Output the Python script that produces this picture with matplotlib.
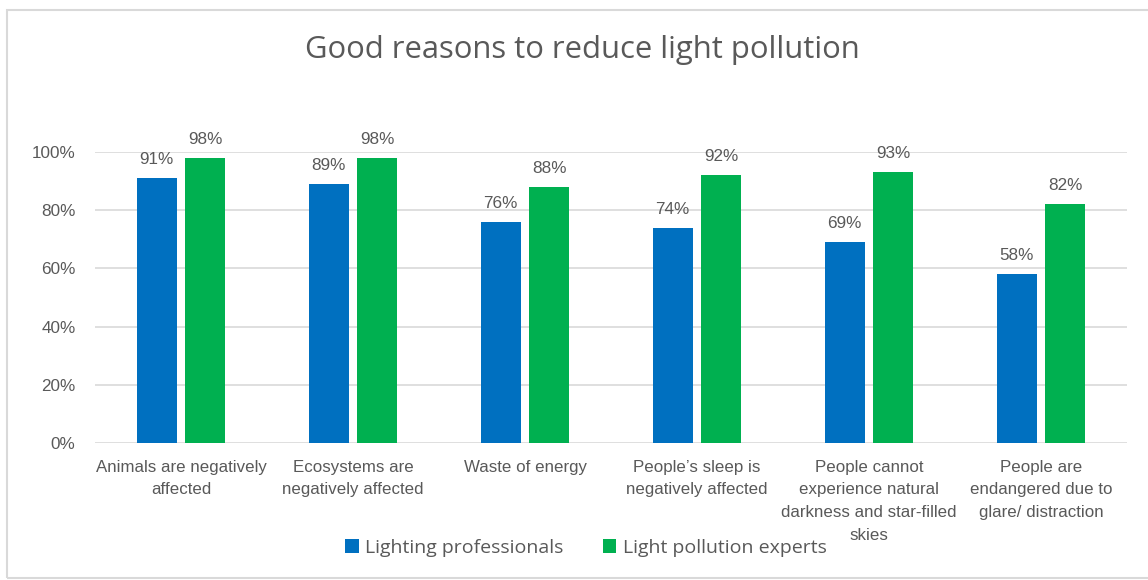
import matplotlib
matplotlib.use("Agg")
import matplotlib.pyplot as plt
from matplotlib.patches import Rectangle
import numpy as np

# survey results (share answering "good reason")
categories = [
    "Animals are negatively\naffected",
    "Ecosystems are\nnegatively affected",
    "Waste of energy",
    "People\u2019s sleep is\nnegatively affected",
    "People cannot\nexperience natural\ndarkness and star-filled\nskies",
    "People are\nendangered due to\nglare/ distraction",
]
professionals = [91, 89, 76, 74, 69, 58]
experts = [98, 98, 88, 92, 93, 82]
series_names = ["Lighting professionals", "Light pollution experts"]
yticks = [0, 20, 40, 60, 80, 100]

BLUE = "#0070C0"
GREEN = "#00B050"
GREY = "#595959"
ARIAL = ["Liberation Sans", "DejaVu Sans"]
TITLE_FONT = ["Open Sans", "DejaVu Sans"]

fig = plt.figure(figsize=(11.48, 5.8), dpi=100)
ax = fig.add_axes([95 / 1148, 1 - 443 / 580, (1127 - 95) / 1148, (443 - 152) / 580])

x = np.arange(len(categories))
w = 0.233
off = 0.142
b1 = ax.bar(x - off, professionals, w, color=BLUE, label=series_names[0], zorder=3)
b2 = ax.bar(x + off, experts, w, color=GREEN, label=series_names[1], zorder=3)

for bars, vals in ((b1, professionals), (b2, experts)):
    for rect, v in zip(bars, vals):
        ax.text(rect.get_x() + rect.get_width() / 2, v + 3.8, f"{v}%",
                ha="center", va="bottom", fontsize=12.3, color=GREY,
                family=ARIAL, clip_on=False)

ax.set_xlim(-0.5, len(categories) - 0.5)
ax.set_ylim(0, 100)
ax.set_yticks(yticks)
ax.set_yticklabels([f"{t}%" for t in yticks], family=ARIAL, fontsize=12.3, color=GREY)
ax.set_xticks(x)
ax.set_xticklabels(categories, family=ARIAL, fontsize=12.2, color=GREY,
                   linespacing=1.65, va="top")
ax.tick_params(axis="y", length=0, pad=14)
ax.tick_params(axis="x", length=0, pad=12)
ax.grid(axis="y", color="#D9D9D9", linewidth=1.2, zorder=0)
for s in ax.spines.values():
    s.set_visible(False)

fig.text(582 / 1148, 1 - 50 / 580, "Good reasons to reduce light pollution",
         ha="center", va="center", fontsize=22.3, color=GREY, family=TITLE_FONT)

leg = fig.legend(handles=[b1, b2], labels=series_names, loc="center",
                 bbox_to_anchor=(586 / 1148, 1 - 548 / 580), ncol=2, frameon=False,
                 prop={"family": TITLE_FONT, "size": 14}, handlelength=0.7,
                 handleheight=0.7, handletextpad=0.35, columnspacing=2.0)
for t in leg.get_texts():
    t.set_color(GREY)

# outer chart border
fig.add_artist(Rectangle((7 / 1148, 2 / 580), 1.0, 1 - 12 / 580,
                         transform=fig.transFigure, fill=False,
                         edgecolor="#D9D9D9", linewidth=1.5))

fig.savefig("out.png", dpi=100)
